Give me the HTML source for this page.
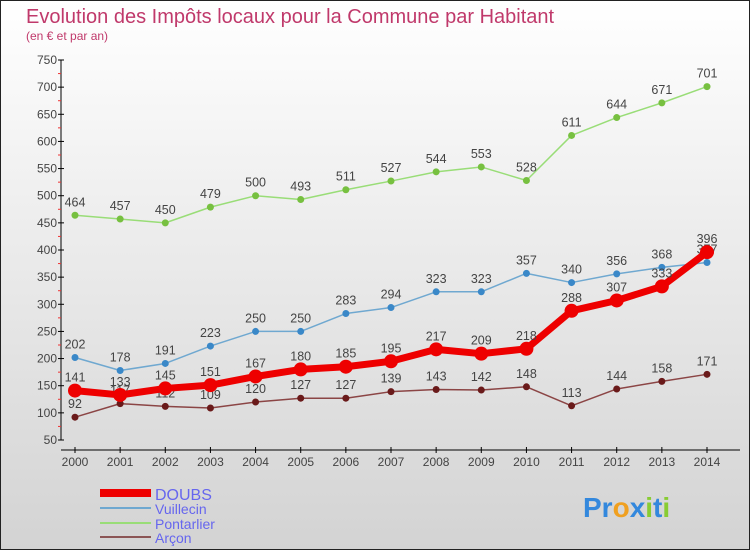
<!DOCTYPE html>
<html><head><meta charset="utf-8"><style>
body{margin:0}
svg text{font-family:"Liberation Sans",sans-serif}
</style></head><body>
<svg width="750" height="550" xmlns="http://www.w3.org/2000/svg">
<defs><linearGradient id="bg" x1="0" y1="0" x2="0" y2="1"><stop offset="0" stop-color="#ffffff"/><stop offset="1" stop-color="#d3d3d3"/></linearGradient></defs>
<rect x="0.5" y="0.5" width="749" height="549" fill="url(#bg)" stroke="#222"/>
<text x="26" y="23" font-size="20" fill="#c0396b">Evolution des Impôts locaux pour la Commune par Habitant</text>
<text x="26" y="40" font-size="12" fill="#c0396b">(en € et par an)</text>
<g id="axes"></g><g id="series"></g>
<g>
<line x1="100" y1="493" x2="151" y2="493" stroke="#ee0000" stroke-width="8"/>
<text x="155" y="500" font-size="16" fill="#6666ee">DOUBS</text>
<line x1="100" y1="508" x2="151" y2="508" stroke="#6fa8d0" stroke-width="2"/>
<text x="155" y="514" font-size="14" fill="#6666ee">Vuillecin</text>
<line x1="100" y1="523" x2="151" y2="523" stroke="#99dd77" stroke-width="2"/>
<text x="155" y="529" font-size="14" fill="#6666ee">Pontarlier</text>
<line x1="100" y1="537" x2="151" y2="537" stroke="#8b5555" stroke-width="2"/>
<text x="155" y="543" font-size="14" fill="#6666ee">Arçon</text>
</g>
<text x="583" y="517" font-size="28" font-weight="bold"><tspan fill="#3388dd">Pr</tspan><tspan fill="#f0a020">o</tspan><tspan fill="#3388dd">x</tspan><tspan fill="#88cc33">i</tspan><tspan fill="#3388dd">t</tspan><tspan fill="#88cc33">i</tspan></text>
</svg>
<script>
const years=[2000,2001,2002,2003,2004,2005,2006,2007,2008,2009,2010,2011,2012,2013,2014];
const yTicks=[50,100,150,200,250,300,350,400,450,500,550,600,650,700,750];
const doubs=[141,133,145,151,167,180,185,195,217,209,218,288,307,333,396];
const vuillecin=[202,178,191,223,250,250,283,294,323,323,357,340,356,368,377];
const pontarlier=[464,457,450,479,500,493,511,527,544,553,528,611,644,671,701];
const arcon=[92,117,112,109,120,127,127,139,143,142,148,113,144,158,171];
const NS="http://www.w3.org/2000/svg";
const X=i=>75+i*(707-75)/(years.length-1);
const Y=v=>440-(v-50)*(380/700);
function mk(t,a,p){const e=document.createElementNS(NS,t);for(const k in a)e.setAttribute(k,a[k]);p.appendChild(e);return e;}
const ax=document.getElementById('axes');
const ya=mk('line',{x1:61,y1:Y(750),x2:61,y2:Y(50),stroke:'#000'},ax);


const xa=mk('line',{x1:61,y1:450,x2:740,y2:450,stroke:'#000'},ax);


yTicks.forEach((v,i)=>{
 mk('line',{x1:58,y1:Y(v),x2:64,y2:Y(v),stroke:'#000'},ax);
 if(i<yTicks.length-1)mk('line',{x1:58,y1:Y(v+25),x2:61,y2:Y(v+25),stroke:'#ee3333'},ax);
 const t=mk('text',{x:57,y:Y(v)+4,'font-size':12,fill:'#444','text-anchor':'end'},ax);
 
 
 t.textContent=v;
});
years.forEach((y,i)=>{
 mk('line',{x1:X(i),y1:447,x2:X(i),y2:453,stroke:'#000'},ax);
 const t=mk('text',{x:X(i),y:466,'font-size':12,fill:'#444','text-anchor':'middle'},ax);
 
 
 t.textContent=y;
});
const sg=document.getElementById('series');
function draw(name,data,col,dot,w,r){
 const g=mk('g',{},sg);
 
 
 mk('polyline',{points:data.map((v,i)=>X(i)+','+Y(v)).join(' '),fill:'none',stroke:col,'stroke-width':w,'stroke-linejoin':'round'},g);
 data.forEach((v,i)=>{
  const c=mk('circle',{cx:X(i),cy:Y(v),r:r,fill:dot},g);
  
  
  const t=mk('text',{x:X(i),y:Y(v)-9,'font-size':12.5,fill:'#444','text-anchor':'middle'},g);
  
  
  t.textContent=v;
 });
}
draw('pontarlier',pontarlier,'#99dd77','#77c040',1.5,3.5);
draw('vuillecin',vuillecin,'#6fa8d0','#3a88c8',1.5,3.5);
draw('arcon',arcon,'#8b4545','#6a1a1a',1.5,3.5);
draw('doubs',doubs,'#ee0000','#ee0000',7,7);
</script>
</body></html>
